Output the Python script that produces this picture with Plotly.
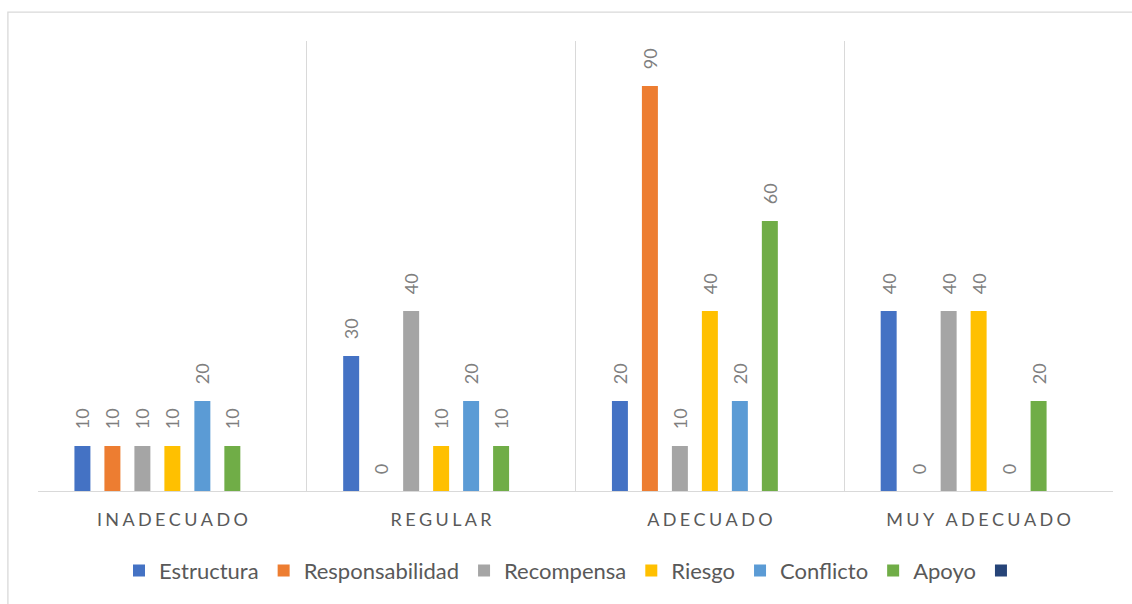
import plotly.graph_objects as go

# Climate dimensions by rating level (percent of respondents)
categories = ["INADECUADO", "REGULAR", "ADECUADO", "MUY ADECUADO"]
estructura = [10, 30, 20, 40]
responsabilidad = [10, 0, 90, 0]
recompensa = [10, 40, 10, 40]
riesgo = [10, 10, 40, 40]
conflicto = [20, 20, 20, 0]
apoyo = [10, 10, 60, 20]
sin_nombre = [None, None, None, None]

series = [
    ("Estructura", estructura, "#4472C4"),
    ("Responsabilidad", responsabilidad, "#ED7D31"),
    ("Recompensa", recompensa, "#A5A5A5"),
    ("Riesgo", riesgo, "#FFC000"),
    ("Conflicto", conflicto, "#5B9BD5"),
    ("Apoyo", apoyo, "#70AD47"),
    ("", sin_nombre, "#264478"),
]

FONT = "Lato, Carlito, Calibri, sans-serif"


def spaced(label):
    # letter-spaced category labels
    return "\u2009\u200a".join("\u00a0" if ch == " " else ch for ch in label)


tick_text = [spaced(c) for c in categories]

fig = go.Figure()
for name, vals, color in series:
    fig.add_trace(go.Bar(
        x=categories,
        y=vals,
        name=name if name else "\u00a0",
        marker=dict(color=color, line=dict(width=0)),
        texttemplate="\u00a0\u00a0\u00a0%{y}",
        textposition="outside",
        textangle=-90,
        constraintext="none",
        cliponaxis=False,
        textfont=dict(family=FONT, size=18, color="#7F7F7F"),
        hoverinfo="skip",
    ))

# outer chart border
fig.add_shape(type="rect", xref="paper", yref="paper",
              x0=-0.028, x1=1.05, y0=-0.3, y1=1.064,
              line=dict(color="#D9D9D9", width=1.3), fillcolor="rgba(0,0,0,0)",
              layer="below")

fig.update_layout(
    width=1132, height=604,
    margin=dict(l=38, r=19, t=41, b=111),
    paper_bgcolor="white", plot_bgcolor="white",
    barmode="group", bargap=0.219, bargroupgap=0.467,
    font=dict(family=FONT, color="#595959"),
    showlegend=True,
    legend=dict(orientation="h", x=0.5, xanchor="center", y=-0.177, yanchor="middle",
                font=dict(family=FONT, size=22, color="#595959"),
                itemwidth=30, traceorder="normal"),
    xaxis=dict(
        tickmode="array", tickvals=categories, ticktext=tick_text,
        tickson="boundaries", ticks="", showgrid=True, gridcolor="#D9D9D9", gridwidth=1.3,
        showline=True, linecolor="#D9D9D9", linewidth=1.3,
        tickfont=dict(family=FONT, size=18, color="#595959"),
        ticklabelstandoff=12,
    ),
    yaxis=dict(range=[0, 100], visible=False, showgrid=False, zeroline=False),
)

fig.write_html("out.html")
